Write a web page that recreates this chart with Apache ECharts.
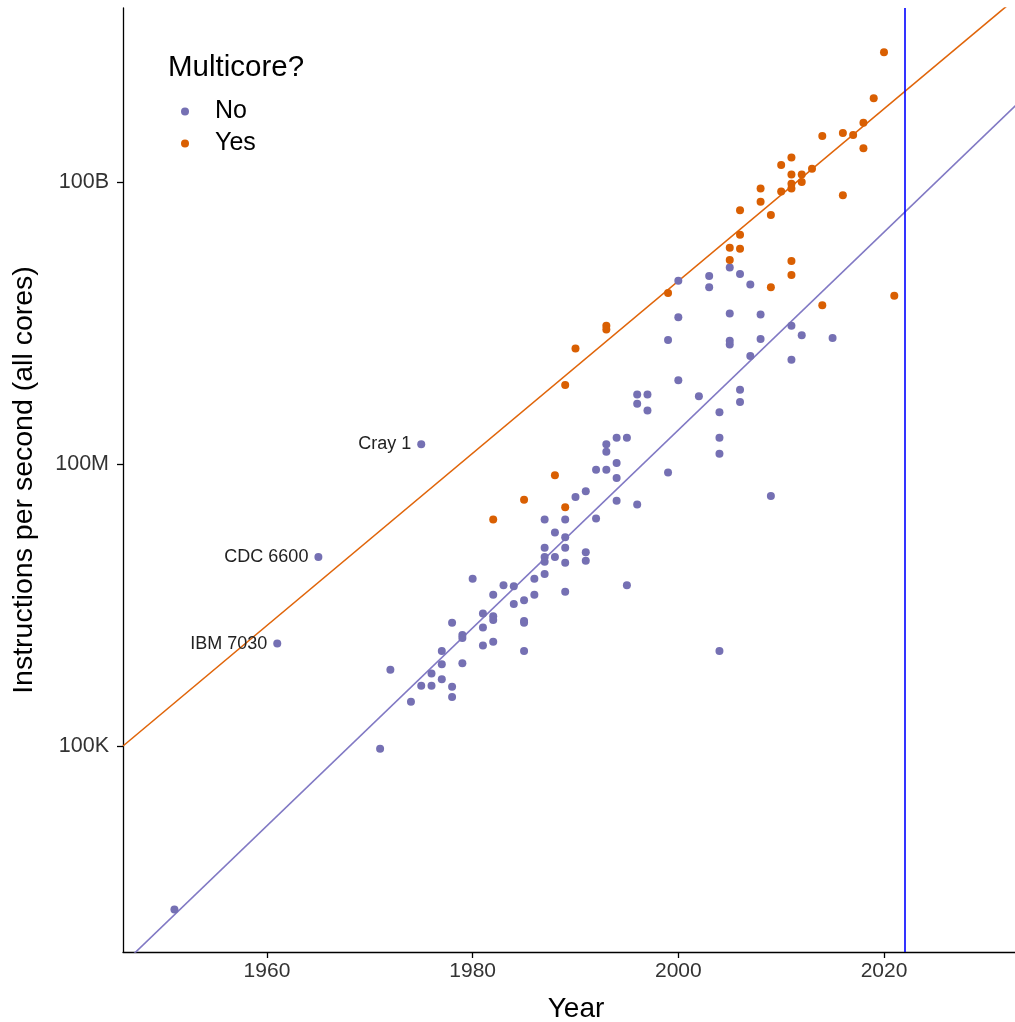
<!DOCTYPE html>
<html>
<head>
<meta charset="utf-8">
<script src="https://cdn.jsdelivr.net/npm/echarts@6/dist/echarts.min.js"></script>
<style>
html,body{margin:0;padding:0;background:#fff;overflow:hidden;}
#chart{width:1015px;height:1022px;}
</style>
</head>
<body>
<div id="chart"></div>
<script>
// Values are log10(instructions per second).
const noYear = [1951,1971,1972,1974,1975,1976,1976,1977,1977,1977,1978,1978,1978,1979,1979,1979,1980,1981,1981,1981,1982,1982,1982,1982,1983,1984,1984,1985,1985,1985,1985,1986,1986,1987,1987,1987,1987,1987,1988,1988,1989,1989,1989,1989,1989,1990,1991,1991,1991,1992,1992,1993,1993,1993,1994,1994,1994,1994,1995,1995,1996,1996,1996,1997,1997,1999,1999,2000,2000,2000,2002,2003,2003,2004,2004,2004,2004,2005,2005,2005,2005,2006,2006,2006,2007,2007,2008,2008,2009,2011,2011,2012,2015];
const noLogIps = [3.26,4.97,5.81,5.47,5.64,5.64,5.77,5.71,5.87,6.01,5.63,5.52,6.31,6.18,6.15,5.88,6.78,6.41,6.26,6.07,6.61,6.38,6.34,6.11,6.71,6.70,6.51,6.55,6.33,6.31,6.01,6.78,6.61,6.83,6.96,7.01,7.11,7.41,7.01,7.27,6.95,7.11,7.22,7.41,6.64,7.65,7.71,7.06,6.97,7.94,7.42,8.21,8.13,7.94,8.28,8.01,7.85,7.61,8.28,6.71,8.74,8.64,7.57,8.74,8.57,9.32,7.91,9.95,9.56,8.89,8.72,10.00,9.88,8.55,8.28,8.11,6.01,10.09,9.60,9.31,9.27,10.02,8.79,8.66,9.91,9.15,9.59,9.33,7.66,9.47,9.11,9.37,9.34];

const namedNames = ['IBM 7030','CDC 6600','Cray 1'];
const namedYear = [1961,1965,1975];
const namedLogIps = [6.09,7.01,8.21];

const yesYear = [1982,1985,1988,1989,1989,1990,1993,1993,1999,2005,2005,2006,2006,2006,2008,2008,2009,2009,2010,2010,2011,2011,2011,2011,2011,2011,2012,2012,2013,2014,2014,2016,2016,2017,2018,2018,2019,2020,2021];
const yesLogIps = [7.41,7.62,7.88,7.54,8.84,9.23,9.47,9.43,9.82,10.30,10.17,10.44,10.29,10.70,10.93,10.79,10.65,9.88,11.18,10.90,11.26,11.08,10.98,10.93,10.16,10.01,11.08,11.00,11.14,11.49,9.69,11.52,10.86,11.50,11.63,11.36,11.89,12.38,9.79];

// Fitted trend lines (log10 IPS at the two ends of the year range)
const fitYears = [1946, 2034.1];
const fitNoLog = [2.678, 11.95];
const fitYesLog = [5.0, 13.07];

const xTickValues = [1960, 1980, 2000, 2020];
const yTickValues = [5, 8, 11];
const yTickLabels = ['100K', '100M', '100B'];
const markYear = 2022;

const colNo = '#7570B3';
const colYes = '#D95F02';
const FONT = '"Liberation Sans", Arial, sans-serif';

const noData = noYear.map((y, i) => [y, noLogIps[i]]);
namedNames.forEach((n, i) => {
  noData.push({
    value: [namedYear[i], namedLogIps[i]],
    label: {show: true, formatter: n, position: 'left', distance: 6,
            fontSize: 18, color: '#222', fontFamily: FONT}
  });
});
const yesData = yesYear.map((y, i) => [y, yesLogIps[i]]);

const chart = echarts.init(document.getElementById('chart'), null, {renderer: 'canvas'});
chart.setOption({
  animation: false,
  backgroundColor: '#fff',
  textStyle: {fontFamily: FONT},
  title: {
    text: 'Multicore?', left: 168, top: 53, padding: 0,
    textStyle: {fontSize: 29.5, fontWeight: 'normal', color: '#000', fontFamily: FONT}
  },
  legend: {
    data: ['No', 'Yes'], orient: 'vertical', left: 181, top: 99, padding: 0,
    icon: 'circle', itemWidth: 8, itemHeight: 8, itemGap: 7,
    textStyle: {fontSize: 25, lineHeight: 25, color: '#000', padding: [0, 0, 0, 21], fontFamily: FONT}
  },
  grid: {left: 123, right: -14, top: 8, bottom: 70, containLabel: false, outerBoundsMode: 'none'},
  xAxis: {
    type: 'value', min: 1946, max: 2034.1,
    name: 'Year', nameLocation: 'middle', nameGap: 43,
    nameTextStyle: {fontSize: 28, color: '#000', fontFamily: FONT},
    axisLine: {show: true, onZero: false, lineStyle: {color: '#000', width: 1.3}},
    axisTick: {show: true, length: 6, customValues: xTickValues, lineStyle: {color: '#000', width: 1.3}},
    axisLabel: {customValues: xTickValues, fontSize: 21, color: '#333', margin: 9, fontFamily: FONT,
                formatter: v => String(Math.round(v))},
    splitLine: {show: false}
  },
  yAxis: {
    type: 'value', min: 2.8085, max: 12.851,
    name: 'Instructions per second (all cores)', nameLocation: 'middle', nameGap: 84, nameRotate: 90,
    nameTextStyle: {fontSize: 28.5, color: '#000', fontFamily: FONT, padding: [0, 0, 0, 0]},
    axisLine: {show: true, onZero: false, lineStyle: {color: '#000', width: 1.3}},
    axisTick: {show: true, length: 6, customValues: yTickValues, lineStyle: {color: '#000', width: 1.3}},
    axisLabel: {
      customValues: yTickValues, fontSize: 21.5, color: '#333', margin: 14, fontFamily: FONT,
      formatter: v => { const i = yTickValues.indexOf(Math.round(v)); return i >= 0 ? yTickLabels[i] : ''; }
    },
    splitLine: {show: false}
  },
  series: [
    {
      name: 'No fit', type: 'line', data: fitYears.map((y, i) => [y, fitNoLog[i]]),
      showSymbol: false, symbol: 'none', clip: true, silent: true,
      lineStyle: {color: '#8179C4', width: 1.6}, z: 1
    },
    {
      name: 'Yes fit', type: 'line', data: fitYears.map((y, i) => [y, fitYesLog[i]]),
      showSymbol: false, symbol: 'none', clip: true, silent: true,
      lineStyle: {color: '#E0650A', width: 1.6}, z: 1
    },
    {
      name: 'No', type: 'scatter', data: noData, symbolSize: 8,
      itemStyle: {color: colNo, opacity: 1}, z: 3,
      markLine: {
        silent: true, symbol: 'none', label: {show: false},
        lineStyle: {color: '#0000FF', width: 1.6, type: 'solid'},
        data: [{xAxis: markYear}]
      }
    },
    {
      name: 'Yes', type: 'scatter', data: yesData, symbolSize: 8,
      itemStyle: {color: colYes, opacity: 1}, z: 3
    }
  ]
});
</script>
</body>
</html>
